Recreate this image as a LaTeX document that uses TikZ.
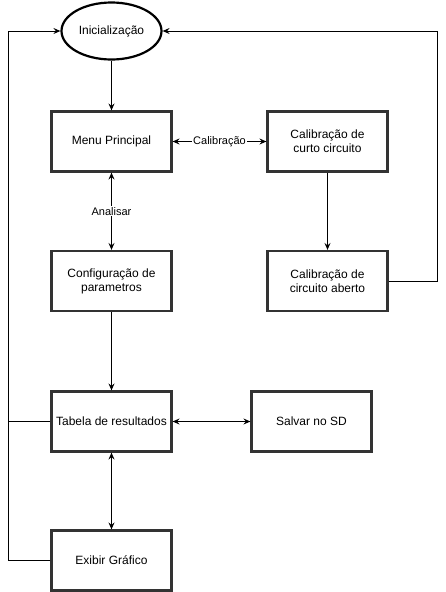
\documentclass[tikz,border=0pt]{standalone}
\usepackage{fontspec}
\setmainfont{Liberation Sans}
\usetikzlibrary{arrows.meta,shapes.geometric}
\begin{document}
\begin{tikzpicture}[x=1pt,y=-1pt,
  box/.style={draw=black!80,line width=2.2pt,minimum width=120pt,minimum height=60pt,inner sep=0pt,align=center,font=\fontsize{12}{14}\selectfont},
  oval/.style={ellipse,draw=black,line width=2.2pt,minimum width=100pt,minimum height=57pt,inner sep=0pt,font=\fontsize{12}{14}\selectfont},
  conn/.style={line width=1pt,-{Stealth[length=7pt,width=6pt,inset=2.5pt]}},
  biconn/.style={line width=1pt,{Stealth[length=7pt,width=6pt,inset=2.5pt]}-{Stealth[length=7pt,width=6pt,inset=2.5pt]}},
  plain/.style={line width=1pt},
  lbl/.style={fill=white,inner sep=1pt,font=\fontsize{11}{13}\selectfont}]
\useasboundingbox (0,0) rectangle (446,592);
\node[oval] (ini) at (111.5,31) {Inicialização};
\node[box] (menu) at (111.5,141.5) {Menu Principal};
\node[box] (curto) at (327.5,141.5) {Calibração de\\curto circuito};
\node[box] (conf) at (111.5,281) {Configuração de\\parametros};
\node[box] (aberto) at (327.5,281) {Calibração de\\circuito aberto};
\node[box] (tab) at (111.5,421.5) {Tabela de resultados};
\node[box] (sd) at (311.5,421.5) {Salvar no SD};
\node[box] (graf) at (111.5,560.5) {Exibir Gráfico};
\coordinate (lt) at (8,31);
\coordinate (rt) at (437,31);
\draw[conn] (ini) -- (menu);
\draw[biconn] (menu) -- node[lbl] {Calibração} (curto);
\draw[biconn] (menu) -- node[lbl] {Analisar} (conf);
\draw[conn] (curto) -- (aberto);
\draw[conn] (conf) -- (tab);
\draw[biconn] (tab) -- (sd);
\draw[biconn] (tab) -- (graf);
\draw[plain] (tab.west) -| (lt);
\draw[conn] (graf.west) -| (lt) -- (ini.west);
\draw[conn] (aberto.east) -| (rt) -- (ini.east);
\end{tikzpicture}
\end{document}
